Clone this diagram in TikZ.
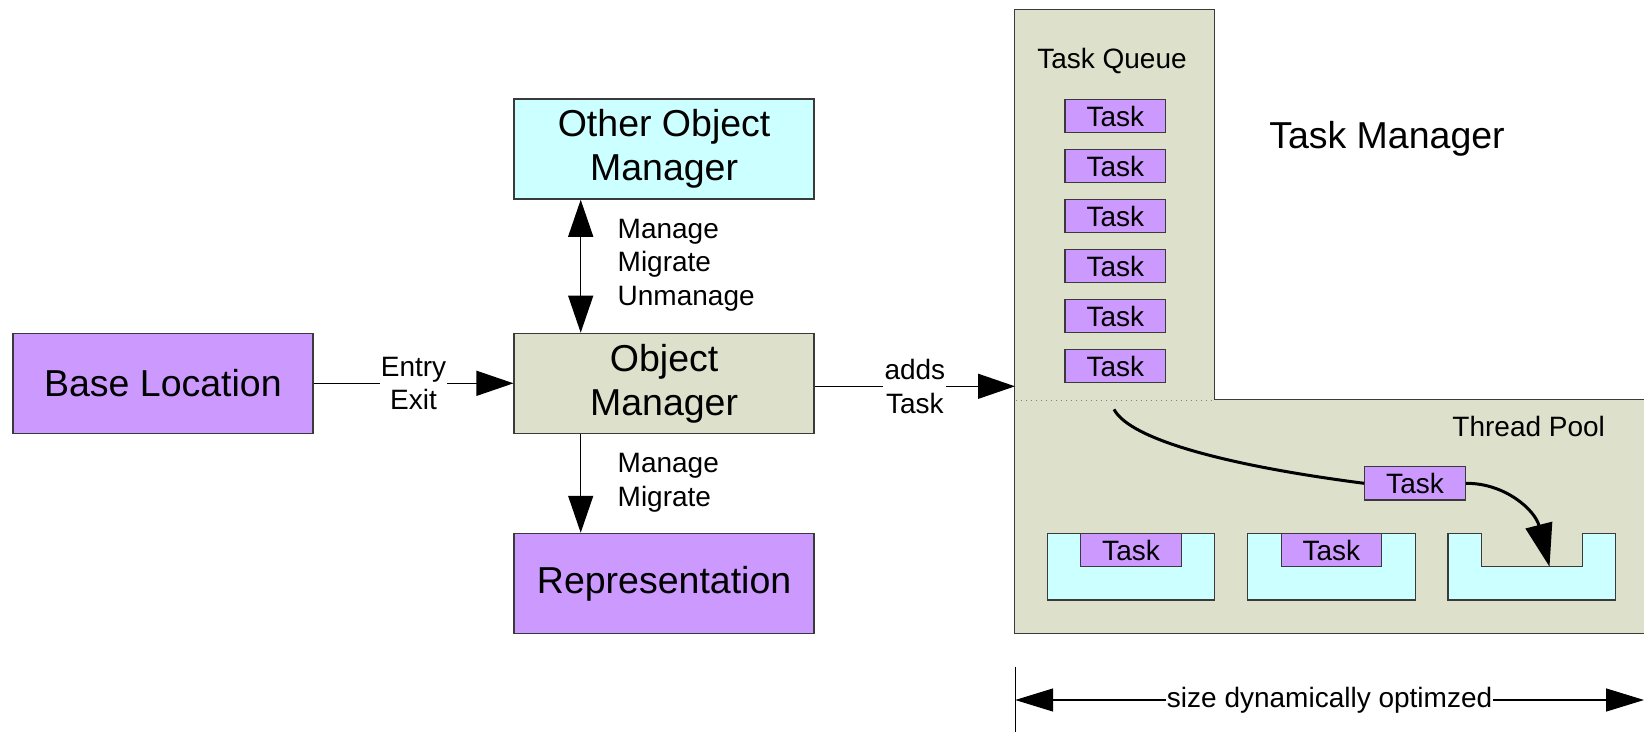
\documentclass[tikz,border=0pt]{standalone}
\usepackage{fontspec}
\setmainfont{Liberation Sans}
\usetikzlibrary{arrows.meta}

\definecolor{lav}{HTML}{CC99FF}
\definecolor{aqua}{HTML}{CCFFFF}
\definecolor{sage}{HTML}{DDE0CB}
\definecolor{edgegray}{HTML}{3A3A3A}

\newcommand\bigtxt{\fontsize{37.5}{44}\selectfont}
\newcommand\smalltxt{\fontsize{28}{33.5}\selectfont}

\begin{document}
\begin{tikzpicture}[x=1pt,y=-1pt,
  box/.style={draw=edgegray, line width=1.3pt, minimum width=300pt,
    minimum height=100pt, inner sep=0pt, align=center, font=\bigtxt},
  taskbox/.style={draw=edgegray, line width=1.3pt, fill=lav, minimum width=100.5pt,
    minimum height=33.5pt, inner sep=0pt, font=\smalltxt},
  slotbox/.style={draw=edgegray, line width=1.3pt, fill=aqua, minimum width=167.6pt,
    minimum height=66.7pt, inner sep=0pt},
  conn/.style={draw=black, line width=1.3pt},
  lbl/.style={fill=white, inner sep=1.2pt, align=center, font=\smalltxt},
  sidelbl/.style={anchor=west, inner sep=0pt, align=left, font=\smalltxt},
  tri/.tip={Triangle[length=37pt,width=25pt]},
  bigtri/.tip={Triangle[length=43pt,width=27pt]},
  dimtri/.tip={Triangle[length=38pt,width=23pt]},
  movearrow/.style={draw=black, line width=3pt}
]
\useasboundingbox (0,0) rectangle (1644,731);

% ---- object manager side ----
\node[box, fill=aqua] (oom)  at (664.1,149.1) {Other Object\\Manager};
\node[box, fill=sage] (om)   at (664.1,383.3) {Object\\Manager};
\node[box, fill=lav]  (base) at (162.9,383.3) {Base Location};
\node[box, fill=lav]  (rep)  at (664.1,583.4) {Representation};

\draw[conn, tri-tri] ([xshift=-83.4pt]oom.south) -- ([xshift=-83.4pt]om.north);
\node[sidelbl] (mmu) at (617.5,265.2) {Manage\\Migrate\\Unmanage};

\draw[conn, -tri] ([xshift=-83.4pt]om.south) -- ([xshift=-83.4pt]rep.north);
\node[sidelbl] (mm) at (617.5,482.6) {Manage\\Migrate};

\draw[conn, -tri] (base) -- node[lbl] {Entry\\Exit} (om);

% ---- task manager outline ----
\draw[draw=edgegray, line width=1.3pt, fill=sage]
  (1014.4,9.3) -- (1214.4,9.3) -- (1214.4,399.3) -- (1660,399.3)
  -- (1660,633.3) -- (1014.4,633.3) -- cycle;
\draw[gray, line width=1pt, dash pattern=on 1.2pt off 3.8pt] (1016,400) -- (1213,400);

\coordinate (tmW) at (1015,386.3);
\draw[conn, -tri] (om.east |- tmW) -- node[lbl] {adds\\Task} (tmW);

\node[font=\smalltxt, anchor=base, inner sep=0pt] (tq) at (1112,68.3) {Task Queue};
\node[font=\bigtxt, anchor=base, inner sep=0pt] (tmt) at (1387,148.3) {Task Manager};
\node[font=\smalltxt, anchor=base, inner sep=0pt] (tp) at (1528.7,436) {Thread Pool};

% queued tasks
\foreach \i in {0,...,5}
  \node[taskbox] (q\i) at (1115.3,{116+50*\i}) {Task};

% thread slots
\node[slotbox] (s1) at (1131.0,566.65) {};
\node[taskbox, minimum height=33.4pt, anchor=north] (t1) at (s1.north) {Task};
\node[slotbox] (s2) at (1331.4,566.65) {};
\node[taskbox, minimum height=33.4pt, anchor=north] (t2) at (s2.north) {Task};
\draw[draw=edgegray, line width=1.3pt, fill=aqua]
  (1448,533.3) -- (1481.7,533.3) -- (1481.7,566.7) -- (1582.3,566.7)
  -- (1582.3,533.3) -- (1615.2,533.3) -- (1615.2,600) -- (1448,600) -- cycle;
\coordinate (notch) at (1549.5,566.7);

% task being handed to a free thread
\node[taskbox] (mt) at (1415,483.3) {Task};
\coordinate (pick) at (1114,409.3);
\draw[movearrow] (pick) .. controls (1130,440) and (1230,466) .. (mt.west);
\draw[movearrow, -bigtri] (mt.east) .. controls (1505,483) and (1535,510) .. (notch);

% dimension line
\coordinate (tickT) at (1015.2,666.7);
\coordinate (tickB) at (1015.2,740);
\draw[conn] (tickT) -- (tickB);
\coordinate (dimL) at (1015.2,700);
\coordinate (dimR) at (1644,700);
\draw[conn, dimtri-dimtri] (dimL) -- node[lbl, inner sep=0.8pt] {size dynamically optimzed} (dimR);
\end{tikzpicture}
\end{document}
